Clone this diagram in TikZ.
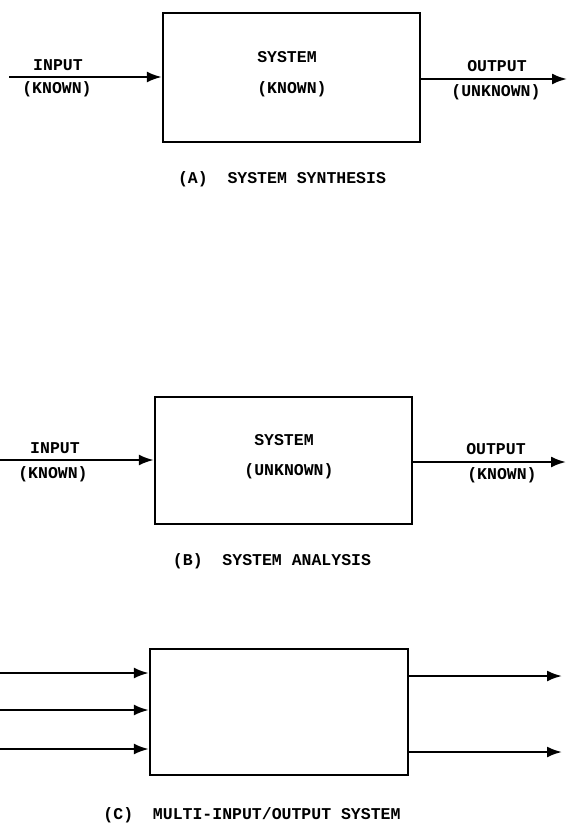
\documentclass[tikz,border=0pt]{standalone}
\usepackage{fontspec}
\setmonofont{Liberation Mono}
\usetikzlibrary{arrows.meta}
\tikzset{
  sysbox/.style={draw, line width=2.4pt, inner sep=0pt},
  flow/.style={line width=2.2pt, -{Latex[length=15pt,width=11pt]}},
  lbl/.style={inner sep=0pt, font=\ttfamily\bfseries\fontsize{16.5}{19}\selectfont},
}
\begin{document}
\begin{tikzpicture}[x=1pt,y=-1pt]
\useasboundingbox (0,0) rectangle (568,825);
% ---------- (A) ----------
\node[sysbox, minimum width=257pt, minimum height=129pt] (boxA) at (291.5,77.5) {};
\coordinate (ainL) at (9,77);
\coordinate (aoutR) at (567,79);
\draw[flow] (ainL) -- (ainL -| boxA.west);
\draw[flow] (aoutR -| boxA.east) -- (aoutR);
\node[lbl] (aIn) at (58,65.5) {INPUT};
\node[lbl] (aInK) at (57,89) {(KNOWN)};
\node[lbl] (aSys) at (287,57) {SYSTEM};
\node[lbl] (aSysK) at (292,89) {(KNOWN)};
\node[lbl] (aOut) at (497,66.5) {OUTPUT};
\node[lbl] (aOutK) at (496,92) {(UNKNOWN)};
\node[lbl] (aCap) at (282,179) {(A)~~SYSTEM SYNTHESIS};
% ---------- (B) ----------
\node[sysbox, minimum width=257pt, minimum height=127pt] (boxB) at (283.5,460.5) {};
\coordinate (binL) at (0,460);
\coordinate (boutR) at (566,462);
\draw[flow] (binL) -- (binL -| boxB.west);
\draw[flow] (boutR -| boxB.east) -- (boutR);
\node[lbl] (bIn) at (55,448) {INPUT};
\node[lbl] (bInK) at (53,474) {(KNOWN)};
\node[lbl] (bSys) at (284,440) {SYSTEM};
\node[lbl] (bSysK) at (289,471) {(UNKNOWN)};
\node[lbl] (bOut) at (496,449) {OUTPUT};
\node[lbl] (bOutK) at (502,475) {(KNOWN)};
\node[lbl] (bCap) at (272,561) {(B)~~SYSTEM ANALYSIS};
% ---------- (C) ----------
\node[sysbox, minimum width=258pt, minimum height=126pt] (boxC) at (279,712) {};
\coordinate (cin1) at (0,673);
\coordinate (cin2) at (0,710);
\coordinate (cin3) at (0,749);
\coordinate (cout1) at (562,676);
\coordinate (cout2) at (562,752);
\draw[flow] (cin1) -- (cin1 -| boxC.west);
\draw[flow] (cin2) -- (cin2 -| boxC.west);
\draw[flow] (cin3) -- (cin3 -| boxC.west);
\draw[flow] (cout1 -| boxC.east) -- (cout1);
\draw[flow] (cout2 -| boxC.east) -- (cout2);
\node[lbl] (cCap) at (252,815) {(C)~~MULTI-INPUT/OUTPUT SYSTEM};
\end{tikzpicture}
\end{document}
